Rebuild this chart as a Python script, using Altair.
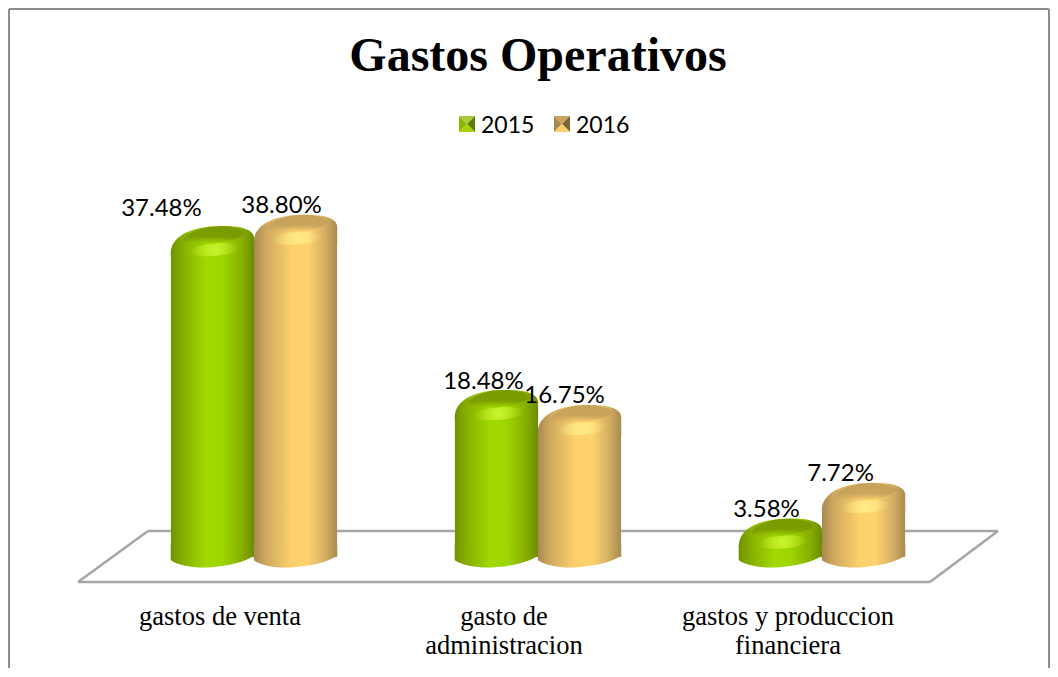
import altair as alt
import pandas as pd

categories = ["gastos de venta", "gasto de administracion", "gastos y produccion financiera"]
category_lines = ["gastos de venta", "gasto de\nadministracion", "gastos y produccion\nfinanciera"]
values_2015 = [37.48, 18.48, 3.58]
values_2016 = [38.80, 16.75, 7.72]
labels_2015 = ["37.48%", "18.48%", "3.58%"]
labels_2016 = ["38.80%", "16.75%", "7.72%"]

rows = []
for c, v, l in zip(categories, values_2015, labels_2015):
    rows.append({"cat": c, "year": "2015", "v": v, "label": l})
for c, v, l in zip(categories, values_2016, labels_2016):
    rows.append({"cat": c, "year": "2016", "v": v, "label": l})
df = pd.DataFrame(rows)
one = pd.DataFrame({"a": [0]})

X = alt.X("cat:N", sort=categories, axis=None, scale=alt.Scale(range=[104, 956], paddingInner=0, paddingOuter=0))
XO = alt.XOffset("year:N", sort=["2015", "2016"], scale=alt.Scale(paddingInner=0, paddingOuter=0.709))
Y = alt.Y("v:Q", axis=None, stack=None, scale=alt.Scale(domain=[0, 40], range=[554.5, 209.3], nice=False, zero=False))
BASE_Y = 549
CYL = 6950


def hgrad(stops):
    return {"gradient": "linear", "x1": 0, "x2": 1, "y1": 0, "y2": 0,
            "stops": [{"offset": o, "color": c} for o, c in stops]}


def vgrad(stops):
    return {"gradient": "linear", "x1": 0.5, "x2": 0.5, "y1": 0, "y2": 1,
            "stops": [{"offset": o, "color": c} for o, c in stops]}


def radial(stops):
    return {"gradient": "radial", "x1": 0.5, "y1": 0.5, "x2": 0.5, "y2": 0.5, "r1": 0, "r2": 0.5,
            "stops": [{"offset": o, "color": c} for o, c in stops]}


PALETTE = {
    "2015": dict(
        body=hgrad([(0, "#6f9200"), (0.14, "#87ae00"), (0.42, "#a0d800"), (0.62, "#9fd600"), (0.86, "#86ad00"), (1, "#6b8c00")]),
        dark=vgrad([(0, "rgba(122,155,0,1)"), (0.6, "rgba(122,155,0,0.95)"), (1, "rgba(122,155,0,0)")]),
        light=radial([(0, "rgba(205,245,50,0.95)"), (1, "rgba(205,245,50,0)")]),
        tri=["#a8c93a", "#8fb400", "#5d7d00", "#a6d300"],
    ),
    "2016": dict(
        body=hgrad([(0, "#a98850"), (0.14, "#cda85f"), (0.45, "#fdd06c"), (0.65, "#fed26d"), (0.86, "#d2ad62"), (1, "#a98a50")]),
        dark=vgrad([(0, "rgba(198,162,92,1)"), (0.6, "rgba(198,162,92,0.95)"), (1, "rgba(198,162,92,0)")]),
        light=radial([(0, "rgba(255,238,140,0.95)"), (1, "rgba(255,238,140,0)")]),
        tri=["#c9a55e", "#a98a4f", "#7d6534", "#fcd069"],
    ),
}

CAP = "M -1 0.34 C -1 -0.05 -0.55 -0.3 0.15 -0.31 C 0.7 -0.33 1 -0.22 1 -0.02 L 1 0.4 L -1 0.4 Z"
FOOT = "M -1 0.08 C -0.8 0.22 -0.4 0.27 -0.1 0.25 C 0.4 0.22 0.8 0.12 1 -0.04 L 1 -0.3 L -1 -0.3 Z"
DARK = "M -0.72 0.02 C -0.55 -0.2 -0.2 -0.31 0.15 -0.31 C 0.45 -0.32 0.72 -0.25 0.8 -0.13 C 0.6 0.08 -0.4 0.2 -0.72 0.02 Z"
GLOW = "M -0.55 0.31 A 0.6 0.15 -5 1 1 0.65 0.2 A 0.6 0.15 -5 1 1 -0.55 0.31 Z"

layers = []

frame_color = "#8c8c8c"
floor_color = "#a6a6a6"
for x1, y1, x2, y2 in [(1, 1, 1041, 1), (1, 1, 1, 660), (1041, 1, 1041, 660)]:
    layers.append(alt.Chart(one).mark_rule(color=frame_color, strokeWidth=2).encode(
        x=alt.value(x1), y=alt.value(y1), x2=alt.value(x2), y2=alt.value(y2)))
for x1, y1, x2, y2 in [(70, 574, 140, 523), (140, 523, 990, 523), (990, 523, 922, 574), (922, 574, 70, 574)]:
    layers.append(alt.Chart(one).mark_rule(color=floor_color, strokeWidth=2.5).encode(
        x=alt.value(x1), y=alt.value(y1), x2=alt.value(x2), y2=alt.value(y2)))

for year in ["2015", "2016"]:
    p = PALETTE[year]
    d = alt.Chart(df).transform_filter(alt.datum.year == year)
    layers.append(d.mark_bar(fill=p["body"], yOffset=14).encode(x=X, xOffset=XO, y=Y, y2=alt.value(BASE_Y)))
    layers.append(d.mark_point(shape=FOOT, filled=True, fill=p["body"], size=CYL, opacity=1, strokeWidth=0).encode(
        x=X, xOffset=XO, y=alt.value(BASE_Y)))
    layers.append(d.mark_point(shape=CAP, filled=True, fill=p["body"], size=CYL, opacity=1, strokeWidth=0).encode(
        x=X, xOffset=XO, y=Y))
    layers.append(d.mark_point(shape=DARK, filled=True, fill=p["dark"], size=CYL, opacity=1, strokeWidth=0).encode(
        x=X, xOffset=XO, y=Y))
    layers.append(d.mark_point(shape=GLOW, filled=True, fill=p["light"], size=CYL, opacity=1, strokeWidth=0).encode(
        x=X, xOffset=XO, y=Y))

LABEL_FONT = "Lato"
label_nudges = {"37.48%": (-51, -30), "38.80%": (-14, -22), "18.48%": (-13, -21),
                "16.75%": (-15, -22), "3.58%": (-14, -22), "7.72%": (-23, -22)}
for lab, (dx, dy) in label_nudges.items():
    layers.append(alt.Chart(df).transform_filter(alt.datum.label == lab).mark_text(
        font=LABEL_FONT, fontSize=24, color="#000000", dx=dx, dy=dy, baseline="middle", align="center"
    ).encode(x=X, xOffset=XO, y=Y, text="label:N"))

cat_df = pd.DataFrame({"cat": categories, "line": category_lines})
layers.append(alt.Chart(cat_df).mark_text(
    font="Liberation Serif", fontSize=26.5, color="#000000", baseline="top", align="center",
    lineBreak="\n", lineHeight=29, dx=-34
).encode(x=X, y=alt.value(596), text="line:N"))

layers.append(alt.Chart(one).mark_text(
    text="Gastos Operativos", font="Liberation Serif", fontSize=48, fontWeight="bold", color="#000000",
    align="center", baseline="alphabetic").encode(x=alt.value(530), y=alt.value(63)))

legend_items = [("2015", 459), ("2016", 554)]
TRIS = ["M -1 -1 L 1 -1 L 0 0 Z", "M -1 -1 L -1 1 L 0 0 Z", "M 1 -1 L 1 1 L 0 0 Z", "M -1 1 L 1 1 L 0 0 Z"]
for year, left in legend_items:
    for path, col in zip(TRIS, PALETTE[year]["tri"]):
        layers.append(alt.Chart(one).mark_point(shape=path, filled=True, fill=col, size=256, opacity=1, strokeWidth=0).encode(
            x=alt.value(left), y=alt.value(116)))
    layers.append(alt.Chart(one).mark_text(
        text=year, font=LABEL_FONT, fontSize=23, color="#000000", align="left", baseline="middle"
    ).encode(x=alt.value(left + 14), y=alt.value(117.5)))

chart = alt.layer(*layers).properties(
    width=1042, height=660, padding=0, autosize=alt.AutoSizeParams(type="none"), background="#ffffff"
).configure_view(stroke=None)

chart.save("out.html", embed_options={"renderer": "svg", "actions": False})
